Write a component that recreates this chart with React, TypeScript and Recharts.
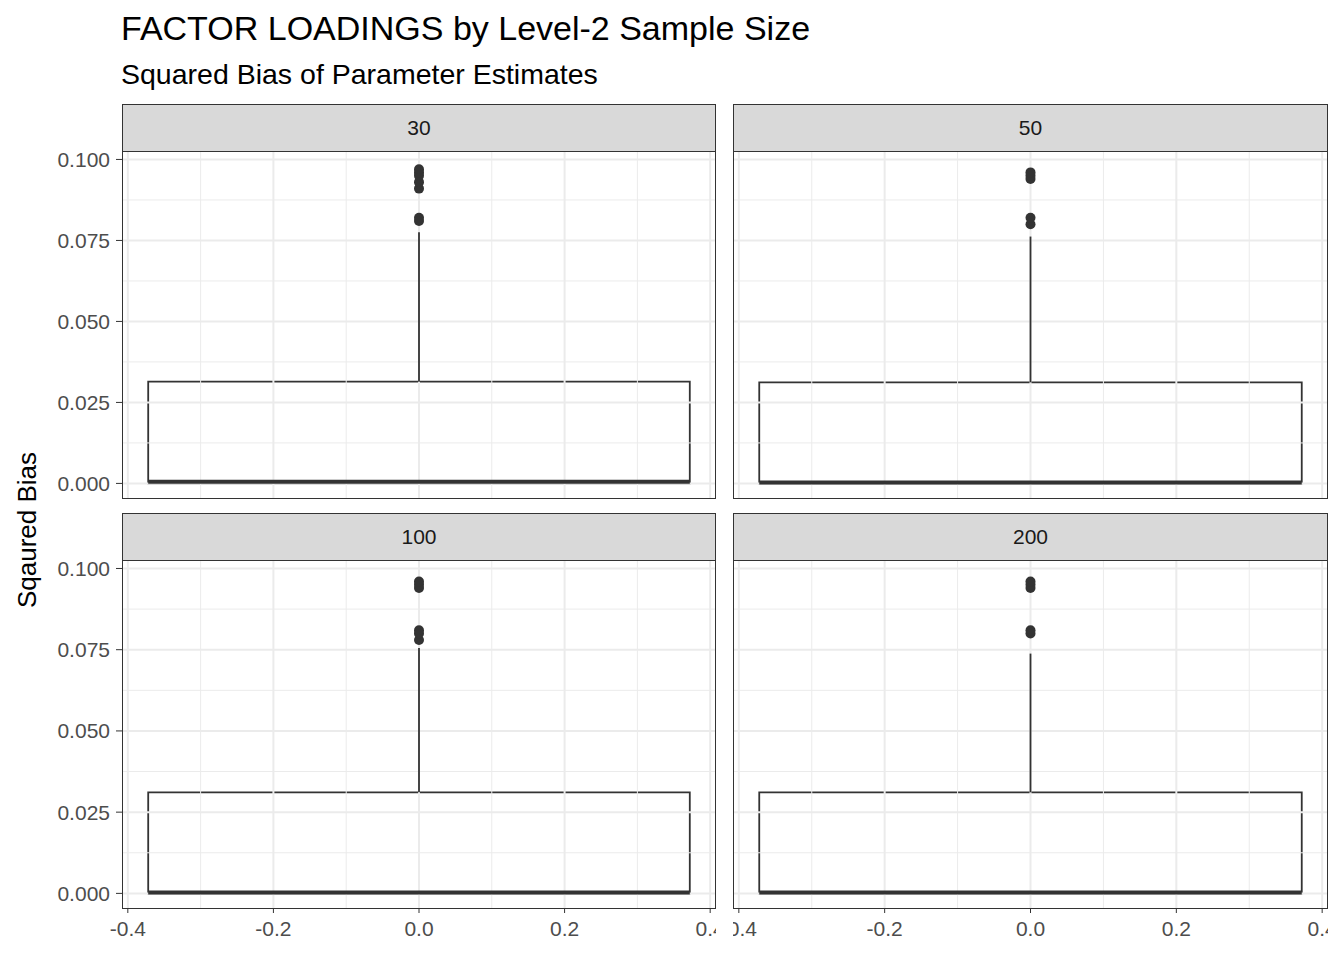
import React from "react";
import { ComposedChart, XAxis, YAxis, ReferenceLine, ReferenceArea, Scatter } from "recharts";

const panels = ["30", "50", "100", "200"];
const q1 = [0.0, 0.0, 0.0, 0.0];
const median = [0.0005, 0.0003, 0.0003, 0.0003];
const q3 = [0.0314, 0.0312, 0.0311, 0.0311];
const whiskerHigh = [0.0775, 0.0762, 0.0755, 0.0738];
const outliers = [
  [0.081, 0.082, 0.091, 0.093, 0.095, 0.096, 0.097],
  [0.080, 0.082, 0.094, 0.095, 0.096],
  [0.078, 0.080, 0.081, 0.094, 0.095, 0.096],
  [0.080, 0.081, 0.094, 0.095, 0.096],
];
const xTicks = [-0.4, -0.2, 0.0, 0.2, 0.4];
const xMinor = [-0.3, -0.1, 0.1, 0.3];
const yTicks = [0, 0.025, 0.05, 0.075, 0.1];
const yMinor = [0.0125, 0.0375, 0.0625, 0.0875];
const boxHalfWidth = 0.372;

const FONT = "'Liberation Sans', Arial, sans-serif";
const X_DOMAIN: [number, number] = [-0.408, 0.408];
const Y_DOMAIN: [number, number] = [-0.0045, 0.1023];

const layout = [
  { left: 0, top: 152, width: 716, height: 346, showY: true, showX: false, plotLeft: 122 },
  { left: 733, top: 152, width: 595, height: 346, showY: false, showX: false, plotLeft: 733 },
  { left: 0, top: 561, width: 716, height: 347, showY: true, showX: true, plotLeft: 122 },
  { left: 733, top: 561, width: 595, height: 347, showY: false, showX: true, plotLeft: 733 },
];

function Panel({ i }: { i: number }) {
  const L = layout[i];
  const chartH = L.height + (L.showX ? 50 : 0);
  const plotW = L.showY ? L.width - 122 : L.width;
  const pts = outliers[i].map((v) => ({ x: 0, y: v }));
  return (
    <>
      <div style={{ position: "absolute", left: L.plotLeft, top: L.top - 48, width: plotW - 2, height: 46,
        background: "#d9d9d9", border: "1px solid #333", display: "flex", alignItems: "center",
        justifyContent: "center", fontFamily: FONT, fontSize: 21, color: "#1a1a1a" }}>{panels[i]}</div>
      <div style={{ position: "absolute", left: L.left, top: L.top }}>
        <ComposedChart width={L.width} height={chartH} margin={{ top: 0, right: 0, bottom: 0, left: 0 }}
          style={{ overflow: "visible" }}>
          <XAxis type="number" dataKey="x" domain={X_DOMAIN} ticks={xTicks} allowDataOverflow interval={0}
            hide={!L.showX} height={50} axisLine={false} tickLine={{ stroke: "#333" }} tickSize={5} tickMargin={8}
            tickFormatter={(v: number) => v.toFixed(1)}
            tick={{ fill: "#4d4d4d", fontSize: 21, fontFamily: FONT }} />
          <YAxis type="number" dataKey="y" domain={Y_DOMAIN} ticks={yTicks} allowDataOverflow interval={0}
            hide={!L.showY} width={122} axisLine={false} tickLine={{ stroke: "#333" }} tickSize={6} tickMargin={6}
            tickFormatter={(v: number) => v.toFixed(3)}
            tick={{ fill: "#4d4d4d", fontSize: 21, fontFamily: FONT }} />
          {xMinor.map((v) => <ReferenceLine key={"xm" + v} x={v} stroke="#ebebeb" strokeWidth={1} />)}
          {yMinor.map((v) => <ReferenceLine key={"ym" + v} y={v} stroke="#ebebeb" strokeWidth={1} />)}
          {xTicks.map((v) => <ReferenceLine key={"x" + v} x={v} stroke="#ebebeb" strokeWidth={2} />)}
          {yTicks.map((v) => <ReferenceLine key={"y" + v} y={v} stroke="#ebebeb" strokeWidth={2} />)}
          <ReferenceLine segment={[{ x: 0, y: q3[i] }, { x: 0, y: whiskerHigh[i] }]} stroke="#333" strokeWidth={1.8} />
          <ReferenceArea x1={-boxHalfWidth} x2={boxHalfWidth} y1={q1[i]} y2={q3[i]} fill="#fff" fillOpacity={1}
            stroke="#333" strokeWidth={1.8} />
          <ReferenceLine segment={[{ x: -boxHalfWidth, y: median[i] }, { x: boxHalfWidth, y: median[i] }]}
            stroke="#333" strokeWidth={4} />
          <Scatter data={pts} fill="#333" isAnimationActive={false}
            shape={(p: any) => <circle cx={p.cx} cy={p.cy} r={5} fill="#333" />} />
        </ComposedChart>
      </div>
      <div style={{ position: "absolute", left: L.plotLeft, top: L.top - 1, width: plotW - 2, height: L.height,
        border: "1px solid #333", pointerEvents: "none" }} />
    </>
  );
}

export default function App() {
  return (
    <div style={{ position: "absolute", left: 0, top: 0, width: 1344, height: 960, background: "#fff", fontFamily: FONT }}>
      <div style={{ position: "absolute", left: 121, top: 9, fontSize: 34, color: "#000", whiteSpace: "nowrap" }}>
        FACTOR LOADINGS by Level-2 Sample Size</div>
      <div style={{ position: "absolute", left: 121, top: 58, fontSize: 28.5, color: "#000", whiteSpace: "nowrap" }}>
        Squared Bias of Parameter Estimates</div>
      <div style={{ position: "absolute", left: 27, top: 530, transform: "translate(-50%,-50%) rotate(-90deg)",
        fontSize: 26, whiteSpace: "nowrap", color: "#000" }}>Sqaured Bias</div>
      {panels.map((_, i) => <Panel key={i} i={i} />)}
    </div>
  );
}
